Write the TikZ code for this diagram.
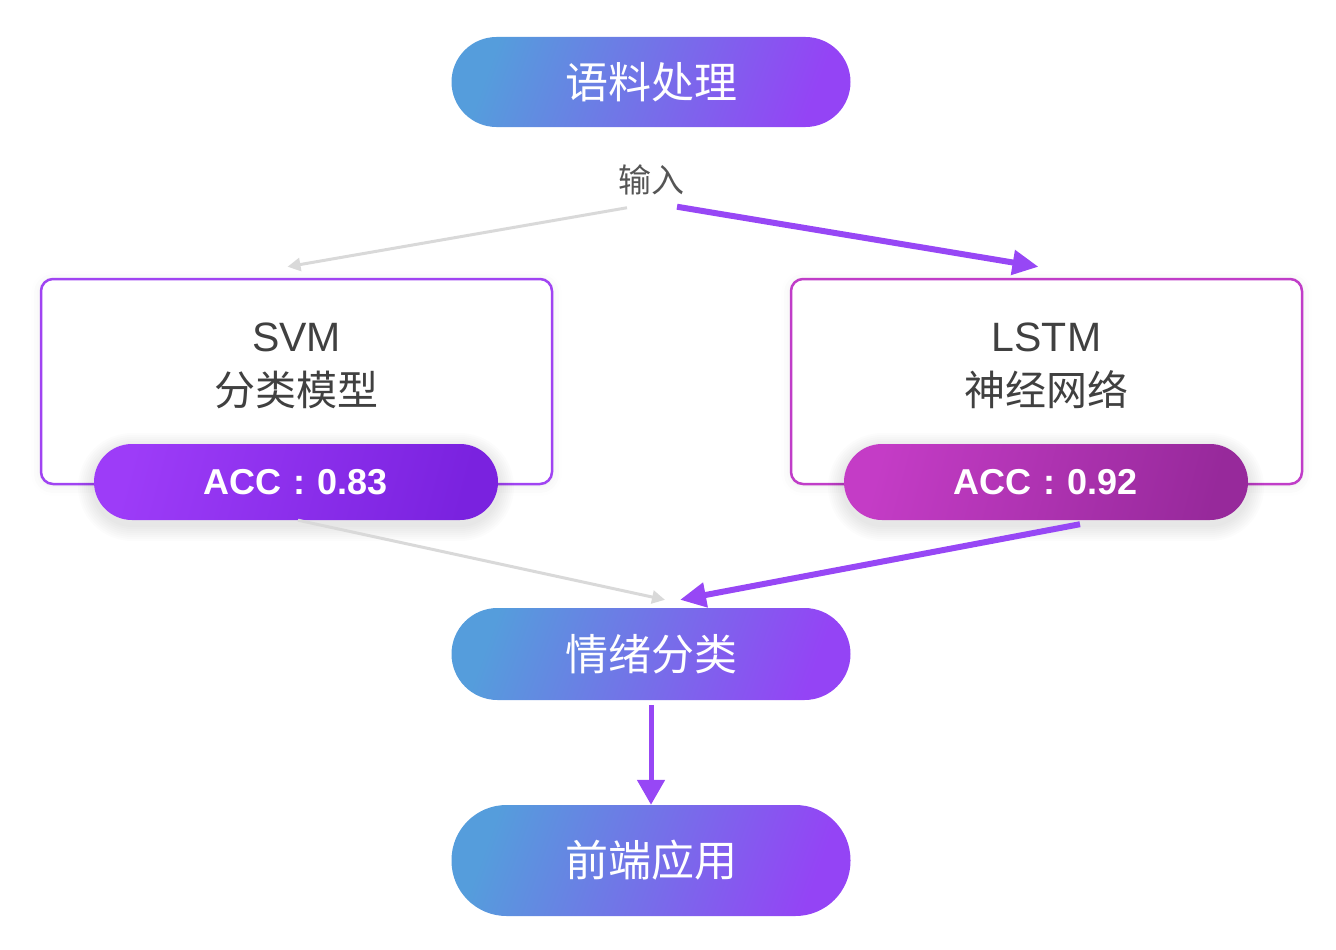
\documentclass[tikz,border=0pt]{standalone}
\usepackage{fontspec}
\setmainfont{Liberation Sans}
\newfontfamily\cjk{Noto Sans CJK SC}
\usetikzlibrary{positioning,arrows.meta,shadows.blur}

\definecolor{pillblue}{HTML}{559DDC}
\definecolor{pillpurple}{HTML}{9444F5}
\definecolor{svmline}{HTML}{A044F2}
\definecolor{lstmline}{HTML}{C03DC8}
\definecolor{svmaccA}{HTML}{9D3CF8}
\definecolor{svmaccB}{HTML}{7A22DF}
\definecolor{lstmaccA}{HTML}{C43CC6}
\definecolor{lstmaccB}{HTML}{97299B}
\definecolor{arrowpurple}{HTML}{9747F5}
\definecolor{arrowgray}{HTML}{D9D9D9}
\definecolor{textdark}{HTML}{404040}
\definecolor{inputgray}{HTML}{555555}

\begin{document}
\begin{tikzpicture}[x=1pt,y=-1pt,
    pill/.style={rounded corners=45pt, minimum width=399pt, minimum height=90pt,
        inner sep=0pt, text=white, font=\cjk\fontsize{43}{50}\selectfont,
        left color=pillblue, right color=pillpurple, shading angle=70},
    modelbox/.style={draw, line width=2.5pt, rounded corners=12pt, fill=white,
        minimum width=511pt, minimum height=205pt,
        blur shadow={shadow xshift=0pt, shadow yshift=-2pt, shadow blur radius=10pt,
            shadow blur extra rounding=12pt, shadow opacity=8}},
    modeltext/.style={align=center, text=textdark, font=\fontsize{41}{54}\selectfont},
    accpill/.style={rounded corners=38pt, minimum width=404pt, minimum height=76pt,
        inner sep=0pt, text=white, font=\bfseries\fontsize{36}{40}\selectfont},
    grayarrow/.style={arrowgray, line width=3pt, -{Triangle[length=13pt,width=13pt]}},
    purplearrow/.style={arrowpurple, line width=6pt, -{Triangle[length=26pt,width=24pt]}}]

    % Fix the page size
    \useasboundingbox (0,0) rectangle (1336,950);

    % Top pill and input label
    \node[pill] (prep) at (651,82) {语料处理};
    \node[text=inputgray, font=\cjk\fontsize{33}{40}\selectfont] (inp) at (651,180) {输入};

    % Model boxes
    \node[modelbox, draw=svmline] (svm) at (296.5,381.5) {};
    \node[modeltext] (svmtxt) at (296.5,366) {SVM\\{\cjk 分类模型}};
    \node[modelbox, draw=lstmline] (lstm) at (1046.5,381.5) {};
    \node[modeltext] (lstmtxt) at (1046.5,366) {LSTM\\{\cjk 神经网络}};

    % Soft shadows under the ACC pills
    \foreach \cx in {296,1046}
        \foreach \r in {2,4,...,16}
            \fill[black, opacity=0.012, rounded corners=38pt+\r pt]
                (\cx-202-\r,449-\r) rectangle (\cx+202+\r,525+\r);

    % ACC pills
    \node[accpill, left color=svmaccA, right color=svmaccB, shading angle=75] (svmacc) at (296,482) {ACC\hspace{12pt}:\hspace{12pt}0.83};
    \node[accpill, left color=lstmaccA, right color=lstmaccB, shading angle=75] (lstmacc) at (1046,482) {ACC\hspace{12pt}:\hspace{12pt}0.92};

    % Lower pills
    \node[pill, minimum height=92pt, rounded corners=46pt] (emo) at (651,654) {情绪分类};
    \node[pill, minimum height=111pt, rounded corners=55pt] (app) at (651,860.5) {前端应用};

    % Connectors
    \draw[grayarrow] ([xshift=-24pt,yshift=-9pt]inp.south) -- ([xshift=-9pt,yshift=11pt]svm.north);
    \draw[purplearrow] ([xshift=26pt,yshift=-8pt]inp.south) -- ([xshift=-8pt,yshift=11pt]lstm.north);
    \draw[grayarrow] ([xshift=2pt]svmacc.south) -- ([xshift=14pt,yshift=8pt]emo.north);
    \draw[purplearrow] ([xshift=34pt,yshift=-4pt]lstmacc.south) -- ([xshift=29pt,yshift=8pt]emo.north);
    \draw[arrowpurple, line width=5pt, -{Triangle[length=25pt,width=27pt]}]
        ([yshift=-5pt]emo.south) -- (app.north);
\end{tikzpicture}
\end{document}
